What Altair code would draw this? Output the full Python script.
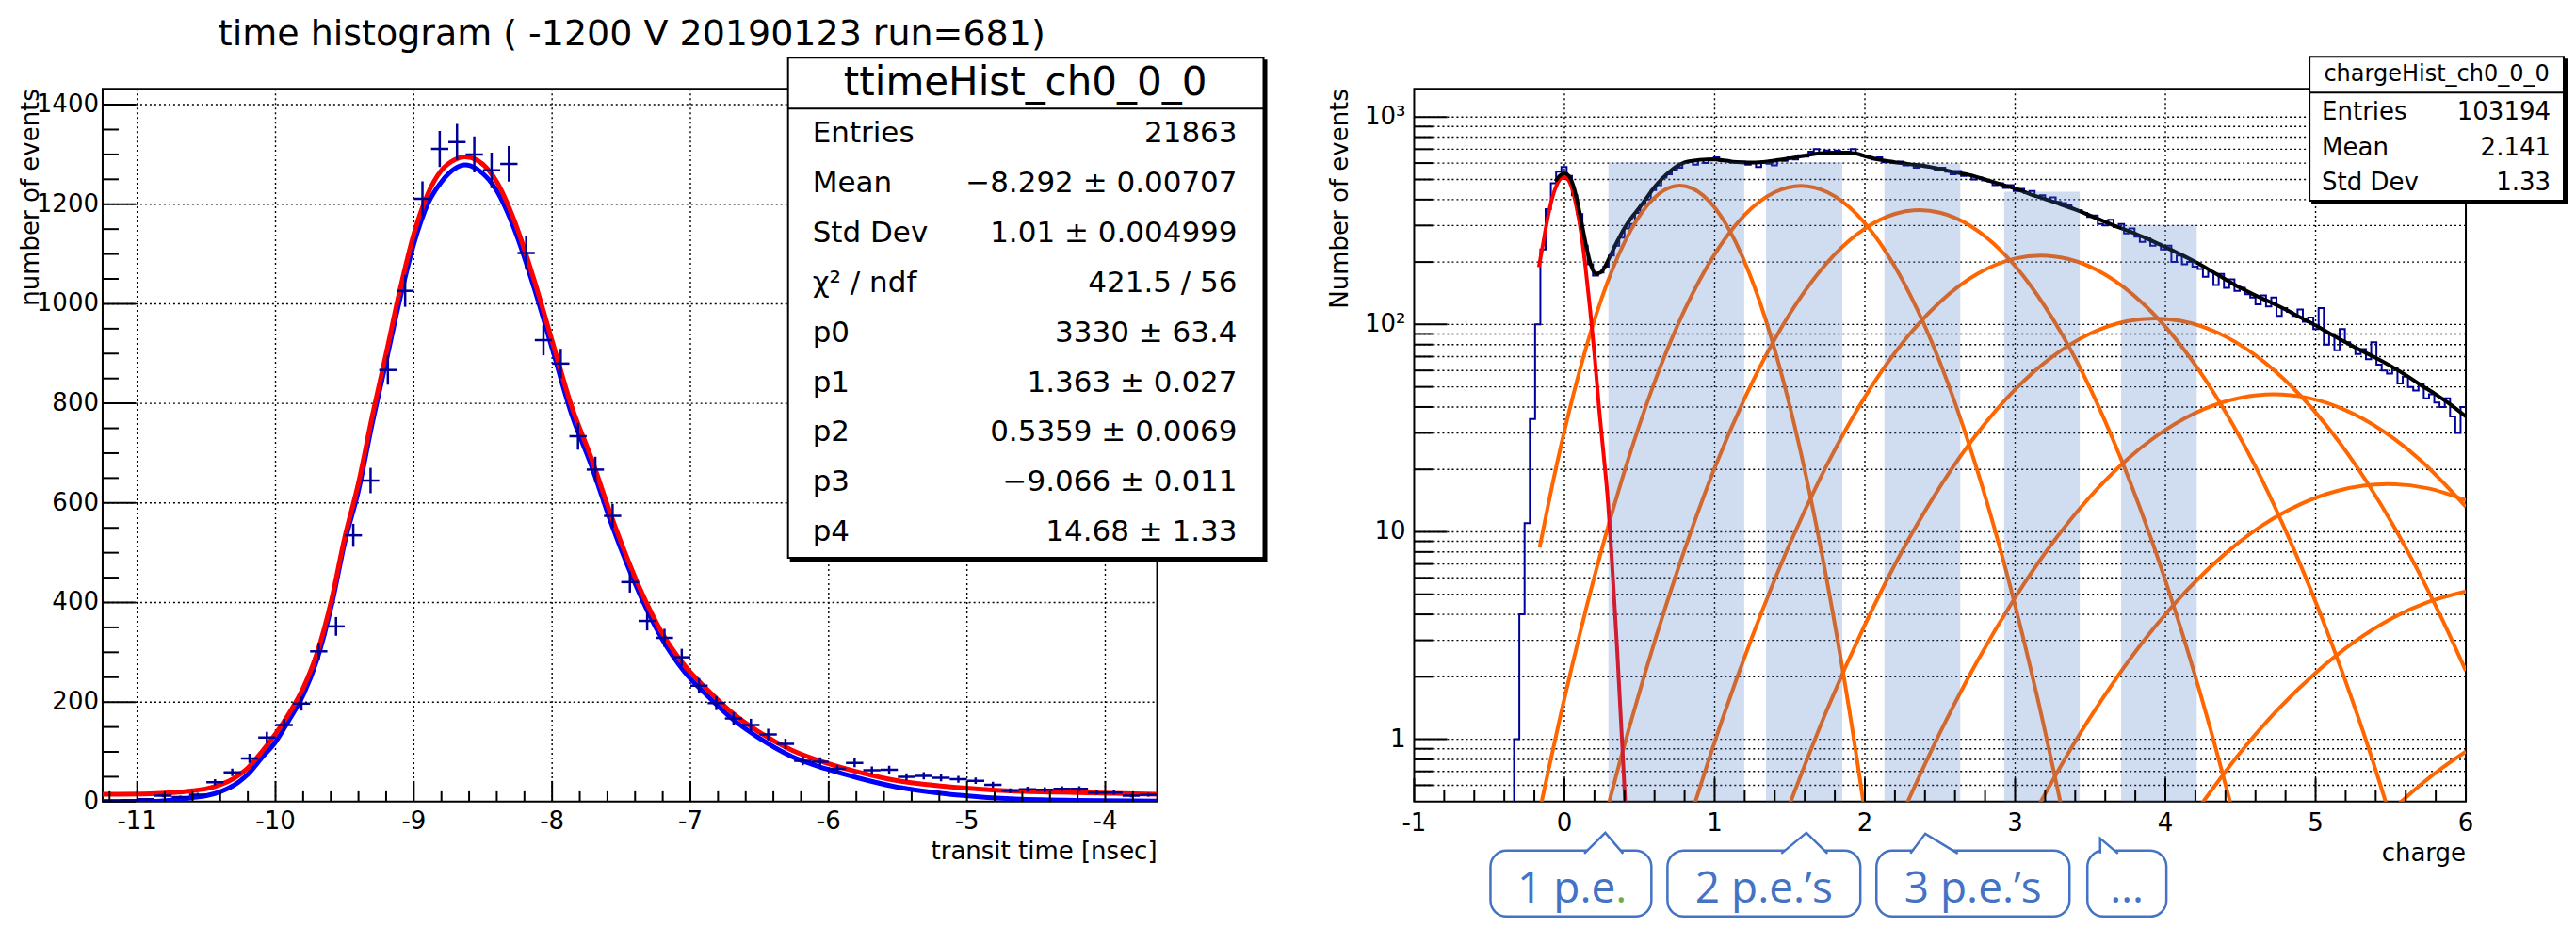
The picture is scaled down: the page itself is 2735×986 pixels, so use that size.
import altair as alt
import numpy as np
import pandas as pd

FONT = "DejaVu Sans"
CFONT = "Open Sans"
NAVY = "#000099"
ORANGE = "#FF6600"
BAND = "#4472C4"
GREEN = "#70AD47"

# ---------------- left panel: transit time ----------------
time_title = "time histogram ( -1200 V 20190123 run=681)"
time_bin_lo = -11.25
time_bin_w = 0.125
time_counts = [2, 3, 5, 12, 9, 14, 39, 59, 87, 129,
               154, 197, 302, 352, 535, 645, 867, 1026, 1211, 1311,
               1325, 1300, 1268, 1281, 1102, 927, 880, 734, 667, 574,
               441, 363, 329, 290, 233, 198, 167, 154, 135, 116,
               82, 80, 66, 78, 63, 64, 50, 52, 48, 45,
               42, 34, 22, 25, 24, 26, 26, 18, 18, 12, 14]
fit_t = [-11.25, -10.9, -10.75, -10.6, -10.5, -10.4, -10.3, -10.2, -10.1, -10.0,
         -9.9, -9.8, -9.7, -9.595, -9.5, -9.4, -9.3, -9.2, -9.1, -9.0,
         -8.9, -8.8, -8.7, -8.63, -8.54, -8.40, -8.266, -8.13, -7.994, -7.86,
         -7.72, -7.563, -7.36, -7.213, -7.043, -6.87, -6.70, -6.51, -6.27, -6.02,
         -5.78, -5.536, -5.17, -4.686, -4.2, -3.625]
fit_blue = [0, 0.5, 3, 8, 12, 20, 33, 55, 88, 120,
            165, 214, 285, 394, 520, 625, 760, 884, 1010, 1120,
            1200, 1245, 1272, 1279, 1270, 1227, 1145, 1032, 905, 779,
            678, 552, 413, 331, 261, 211, 167, 129, 91, 66,
            47, 31, 16.4, 5.7, 2.5, 1.2]
fit_red = [15, 16, 18, 22, 26, 34, 47, 68, 100, 136,
           178, 228, 298, 405, 530, 640, 775, 900, 1028, 1140,
           1220, 1268, 1290, 1295, 1288, 1245, 1162, 1048, 920, 795,
           693, 567, 425, 343, 274, 223, 179, 141, 104, 78,
           59, 43.6, 31, 21.5, 18.3, 15]
time_stats_name = "ttimeHist_ch0_0_0"
time_stats_labels = ["Entries", "Mean", "Std Dev", "\u03c7\u00b2 / ndf", "p0", "p1", "p2", "p3", "p4"]
time_stats_values = ["21863", "\u22128.292 \u00b1 0.00707", "1.01 \u00b1 0.004999", "421.5 / 56",
                     "3330 \u00b1 63.4", "1.363 \u00b1 0.027", "0.5359 \u00b1 0.0069",
                     "\u22129.066 \u00b1 0.011", "14.68 \u00b1 1.33"]
time_x_ticks = [-11, -10, -9, -8, -7, -6, -5, -4]
time_x_labels = ["-11", "-10", "-9", "-8", "-7", "-6", "-5", "-4"]
time_y_ticks = [0, 200, 400, 600, 800, 1000, 1200, 1400]
time_y_labels = ["0", "200", "400", "600", "800", "1000", "1200", "1400"]

# ---------------- right panel: charge ----------------
charge_bin_lo = -0.335
charge_bin_w = 0.035
charge_counts = [1, 4, 11, 35, 100, 230, 360, 480, 545, 575,
                 520, 420, 340, 240, 195, 172, 178, 190, 215, 240,
                 262, 290, 305, 345, 380, 400, 445, 470, 510, 530,
                 555, 570, 600, 610, 590, 625, 600, 630, 640, 615,
                 620, 605, 600, 610, 590, 600, 575, 610, 595, 585,
                 620, 615, 640, 625, 655, 645, 680, 700, 665, 690,
                 670, 690, 665, 680, 700, 660, 650, 640, 625, 640,
                 605, 615, 600, 610, 585, 595, 570, 590, 575, 570,
                 555, 570, 545, 530, 550, 520, 525, 500, 510, 495,
                 490, 470, 480, 455, 470, 440, 450, 430, 440, 415,
                 420, 400, 410, 390, 385, 375, 360, 355, 345, 330,
                 335, 305, 300, 320, 295, 305, 275, 290, 265, 250,
                 260, 240, 245, 230, 240, 200, 215, 195, 200, 190,
                 185, 170, 180, 155, 175, 150, 165, 145, 150, 140,
                 135, 125, 138, 122, 135, 110, 120, 115, 110, 118,
                 103, 108, 95, 120, 80, 90, 75, 95, 82, 78,
                 72, 76, 68, 82, 64, 60, 58, 62, 52, 56,
                 50, 48, 52, 44, 46, 42, 40, 44, 36, 30, 40]
total_q = [-0.06, -0.03, 0.0, 0.03, 0.06, 0.09, 0.12, 0.15, 0.18, 0.21, 0.24, 0.27, 0.30,
           0.35, 0.40, 0.45, 0.50, 0.55, 0.60, 0.65, 0.70, 0.75, 0.80, 0.85, 0.90, 0.95,
           1.00, 1.05, 1.10, 1.15, 1.20, 1.25, 1.30, 1.35, 1.40, 1.45, 1.50, 1.55, 1.60,
           1.65, 1.70, 1.75, 1.80, 1.85, 1.90, 1.95, 2.00, 2.05, 2.10, 2.15, 2.20, 2.25,
           2.30, 2.35, 2.40, 2.50, 2.60, 2.70, 2.80, 2.90, 3.00, 3.10, 3.20, 3.30, 3.40,
           3.50, 3.60, 3.70, 3.80, 3.90, 4.00, 4.10, 4.20, 4.30, 4.40, 4.50, 4.60, 4.70,
           4.80, 4.90, 5.00, 5.10, 5.20, 5.30, 5.40, 5.50, 5.60, 5.70, 5.80, 5.90, 6.00]
total_n = [490, 522, 535, 520, 465, 380, 295, 230, 190, 176, 178, 190, 210,
           250, 292, 330, 366, 410, 460, 505, 545, 580, 605, 615, 622, 625,
           624, 620, 612, 607, 604, 603, 605, 610, 617, 625, 632, 642, 652,
           662, 668, 672, 674, 674, 672, 665, 648, 634, 622, 614, 605, 600,
           592, 587, 580, 562, 542, 525, 500, 475, 452, 425, 402, 380, 358,
           335, 312, 292, 274, 255, 236, 218, 200, 182, 165, 150, 138, 128,
           118, 108, 99, 90, 82, 75, 69, 63, 57, 51, 46, 41, 36]
ped_q = [-0.17, -0.14, -0.11, -0.08, -0.05, -0.02, 0.0, 0.02, 0.05, 0.08, 0.11,
         0.14, 0.17, 0.20, 0.23, 0.26, 0.29, 0.32, 0.35, 0.38, 0.41]
ped_n = [189, 250, 330, 410, 472, 508, 514, 505, 455, 370, 280,
         190, 120, 72, 40, 24, 14, 6.5, 2.8, 1.1, 0.42]
pe1_q = [-0.165, -0.05, 0.1, 0.25, 0.4, 0.55, 0.7, 0.77, 0.85, 1.0, 1.15, 1.3, 1.45, 1.6, 1.75, 1.9, 2.05]
pe1_n = [8.4, 21.3, 59.4, 135, 249, 374, 457, 467, 453, 366, 241, 129, 55.9, 19.8, 5.68, 1.33, 0.25]
pe2_q = [-0.165, 0.0, 0.2, 0.4, 0.6, 0.8, 1.0, 1.2, 1.4, 1.575, 1.75, 1.95, 2.15, 2.35, 2.55, 2.75, 2.95, 3.15, 3.35]
pe2_n = [0.45, 1.57, 6.1, 19.6, 52.7, 117.5, 218, 337.5, 434, 466, 434, 337.5, 218, 117.5, 52.7, 19.6, 6.1, 1.57, 0.34]
pe3_q = [0.25, 0.4, 0.6, 0.8, 1.0, 1.2, 1.4, 1.6, 1.8, 2.0, 2.2, 2.365, 2.5, 2.7, 2.9, 3.1, 3.3, 3.5, 3.7, 3.9, 4.1, 4.3, 4.5]
pe3_n = [0.365, 0.94, 2.95, 8.2, 20.3, 44.1, 85, 144.7, 217.9, 290, 341.4, 356, 346, 299.5, 229, 155, 92.7, 49.1, 22.9, 9.5, 3.47, 1.12, 0.32]
pe4_q = [0.85, 1.0, 1.25, 1.5, 1.75, 2.0, 2.25, 2.5, 2.75, 3.0, 3.17, 3.35, 3.6, 3.85, 4.1, 4.35, 4.6, 4.85, 5.1, 5.35, 5.6]
pe4_n = [0.446, 0.97, 3.12, 8.75, 21.2, 44.7, 81.4, 128.4, 175.6, 208, 215, 207, 173.9, 126.4, 79.7, 43.5, 20.6, 8.4, 2.99, 0.92, 0.24]
pe5_q = [1.5, 1.75, 2.0, 2.25, 2.5, 2.75, 3.0, 3.25, 3.5, 3.75, 3.93, 4.1, 4.35, 4.6, 4.85, 5.1, 5.35, 5.6, 5.85, 6.0]
pe5_n = [0.487, 1.4, 3.56, 8.13, 16.5, 30, 48.6, 70.1, 90.4, 103.9, 107, 104.2, 91.1, 71, 49.4, 30.7, 17, 8.38, 3.69, 2.14]
pe6_q = [2.25, 2.5, 2.75, 3.0, 3.25, 3.5, 3.75, 4.0, 4.25, 4.5, 4.72, 4.95, 5.2, 5.45, 5.7, 6.0]
pe6_n = [0.44, 1.075, 2.39, 4.82, 8.86, 14.8, 22.5, 31, 38.9, 44.3, 46, 44.2, 38.6, 30.6, 22.1, 13.2]
pe7_q = [3.15, 3.4, 3.65, 3.9, 4.15, 4.4, 4.65, 4.9, 5.15, 5.48, 5.75, 6.0]
pe7_n = [0.47, 0.976, 1.86, 3.27, 5.29, 7.87, 10.8, 13.6, 15.8, 17, 16.2, 14.2]
pe8_q = [4.24, 4.5, 4.75, 5.0, 5.25, 5.5, 5.75, 6.0]
pe8_n = [0.487, 0.865, 1.395, 2.09, 2.92, 3.8, 4.59, 5.16]
pe9_q = [5.55, 5.7, 5.85, 6.0]
pe9_n = [0.485, 0.604, 0.734, 0.872]
band_lo = [0.293, 1.342, 2.13, 2.927, 3.706]
band_hi = [1.197, 1.85, 2.635, 3.43, 4.209]
band_top = [605, 605, 597, 436, 302]
charge_stats_name = "chargeHist_ch0_0_0"
charge_stats_labels = ["Entries", "Mean", "Std Dev"]
charge_stats_values = ["103194", "2.141", "1.33"]
charge_x_ticks = [-1, 0, 1, 2, 3, 4, 5, 6]
charge_x_labels = ["-1", "0", "1", "2", "3", "4", "5", "6"]
charge_y_ticks = [1, 10, 100, 1000]
charge_y_labels = ["1", "10", "10\u00b2", "10\u00b3"]
callout_labels = ["1 p.e.", "2 p.e.\u2019s", "3 p.e.\u2019s", "\u2026"]
callout_lo = [-0.492, 0.686, 2.077, 3.481]
callout_hi = [0.579, 1.970, 3.362, 4.007]
callout_tip = [0.272, 1.611, 2.402, 3.566]
callout_text_q = [0.341, 1.328, 2.7195, 3.744]
callout_paths = ["M -0.446 0.06 L 0 -0.38 L 0.38 0.06",
                 "M -0.534 0.06 L 0 -0.38 L 0.446 0.06",
                 "M -0.316 0.06 L 0 -0.36 L 0.692 0.06",
                 "M 0 0.06 L 0 -0.26 L 0.38 0.06"]

# ---------------- layout ----------------
W1, W2, H = 1120, 1117, 757
GAP = 273
one = pd.DataFrame({"a": [0]})

xs1 = alt.Scale(domain=[-11.25, -3.625], nice=False, zero=False)
ys1 = alt.Scale(domain=[0, 1432], nice=False, zero=False)
xs2 = alt.Scale(domain=[-1, 6], nice=False, zero=False)
ys2 = alt.Scale(type="log", domain=[0.5, 1370], nice=False)

GRID = dict(color="black", strokeDash=[2, 3], strokeWidth=1.4)
TICK = dict(color="black", strokeWidth=2)


def rules_v(vals, scale, y0, y1, **kw):
    return alt.Chart(pd.DataFrame({"v": vals})).mark_rule(**kw).encode(
        x=alt.X("v:Q", scale=scale, axis=None), y=alt.value(y0), y2=alt.value(y1))


def rules_h(vals, scale, x0, x1, **kw):
    return alt.Chart(pd.DataFrame({"v": vals})).mark_rule(**kw).encode(
        y=alt.Y("v:Q", scale=scale, axis=None), x=alt.value(x0), x2=alt.value(x1))


def txt(text, x, y, size, align="left", color="black", font=FONT, baseline="middle", angle=0):
    return alt.Chart(one).mark_text(text=text, font=font, fontSize=size, align=align,
                                    baseline=baseline, color=color, angle=angle).encode(
        x=alt.value(x), y=alt.value(y))


def box(x0, y0, x1, y1, fill="white", stroke="black", sw=2):
    return alt.Chart(one).mark_rect(fill=fill, stroke=stroke, strokeWidth=sw).encode(
        x=alt.value(x0), x2=alt.value(x1), y=alt.value(y0), y2=alt.value(y1))


def hline(x0, x1, y, sw=2):
    return alt.Chart(one).mark_rule(color="black", strokeWidth=sw).encode(
        x=alt.value(x0), x2=alt.value(x1), y=alt.value(y))


def xlabels(vals, labs, scale, y):
    d = pd.DataFrame({"v": vals, "lab": labs})
    return alt.Chart(d).mark_text(font=FONT, fontSize=26, align="center", baseline="middle",
                                  color="black").encode(
        x=alt.X("v:Q", scale=scale, axis=None), y=alt.value(y), text="lab:N")


def ylabels(vals, labs, scale, x):
    d = pd.DataFrame({"v": vals, "lab": labs})
    return alt.Chart(d).mark_text(font=FONT, fontSize=26, align="right", baseline="middle",
                                  color="black").encode(
        y=alt.Y("v:Q", scale=scale, axis=None), x=alt.value(x), text="lab:N")


# ---------- left panel ----------
tx_minor = [round(-11.2 + 0.2 * i, 1) for i in range(38)]
tx_minor = [v for v in tx_minor if abs(v - round(v)) > 1e-6]
ty_minor = [v for v in range(50, 1432, 50) if v % 200 != 0]

centers = [time_bin_lo + time_bin_w * (i + 0.5) for i in range(len(time_counts))]
tdf = pd.DataFrame({"t": centers, "n": time_counts})
tdf["t0"] = tdf["t"] - time_bin_w / 2
tdf["t1"] = tdf["t"] + time_bin_w / 2
tdf["e"] = np.sqrt(tdf["n"])
tdf["n0"] = tdf["n"] - tdf["e"]
tdf["n1"] = tdf["n"] + tdf["e"]
fdf = pd.DataFrame({"t": fit_t, "blue": fit_blue, "red": fit_red})

L = []
L.append(alt.Chart(one).mark_rect(opacity=0).encode(
    x=alt.value(-100), x2=alt.value(-99), y=alt.value(-85), y2=alt.value(-84)))
L.append(rules_v(time_x_ticks, xs1, 0, H, **GRID))
L.append(rules_h(time_y_ticks[1:], ys1, 0, W1, **GRID))
L.append(alt.Chart(fdf).mark_line(color="#0000FF", strokeWidth=5, interpolate="monotone", clip=True).encode(
    x=alt.X("t:Q", scale=xs1, axis=None), y=alt.Y("blue:Q", scale=ys1, axis=None)))
L.append(alt.Chart(fdf).mark_line(color="#FF0000", strokeWidth=5, interpolate="monotone", clip=True).encode(
    x=alt.X("t:Q", scale=xs1, axis=None), y=alt.Y("red:Q", scale=ys1, axis=None)))
L.append(alt.Chart(tdf).mark_rule(color=NAVY, strokeWidth=2.5, clip=True).encode(
    x=alt.X("t0:Q", scale=xs1, axis=None), x2="t1:Q", y=alt.Y("n:Q", scale=ys1, axis=None)))
L.append(alt.Chart(tdf).mark_rule(color=NAVY, strokeWidth=2.5, clip=True).encode(
    x=alt.X("t:Q", scale=xs1, axis=None), y=alt.Y("n0:Q", scale=ys1, axis=None), y2="n1:Q"))
L.append(rules_v(time_x_ticks, xs1, H, H - 22, **TICK))
L.append(rules_v(tx_minor, xs1, H, H - 11, **TICK))
L.append(rules_h(time_y_ticks, ys1, 0, 35, **TICK))
L.append(rules_h(ty_minor, ys1, 0, 17, **TICK))
L.append(xlabels(time_x_ticks, time_x_labels, xs1, H + 21))
L.append(ylabels(time_y_ticks, time_y_labels, ys1, -4))
L.append(txt(time_title, 562, -57, 38, align="center"))
L.append(txt("number of events", -76, 0, 26, align="right", angle=270))
L.append(txt("transit time [nsec]", W1, 810, 26, align="right"))
# stats box
L.append(box(731, -30, 1236, 501, fill="black", stroke="black"))
L.append(box(728, -33, 1233, 498))
L.append(hline(728, 1233, 21))
L.append(txt(time_stats_name, 980, -6, 42, align="center"))
for i, (lab, val) in enumerate(zip(time_stats_labels, time_stats_values)):
    yy = 48 + 52.9 * i
    L.append(txt(lab, 754, yy, 31))
    L.append(txt(val, 1205, yy, 31, align="right"))
left = alt.layer(*L).properties(width=W1, height=H)

# ---------- right panel ----------
qx_minor = [round(-1 + 0.2 * i, 1) for i in range(36)]
qx_minor = [v for v in qx_minor if abs(v - round(v)) > 1e-6]
qy_minor = [m * 10.0 ** e for e in range(-1, 3) for m in range(2, 10)]
qy_minor = [round(v, 3) for v in qy_minor if 0.55 < v < 1370]

edges = [charge_bin_lo - charge_bin_w] + [charge_bin_lo + charge_bin_w * i for i in range(len(charge_counts) + 1)]
vals = [0.1] + [max(c, 0.1) for c in charge_counts] + [max(charge_counts[-1], 0.1)]
hdf = pd.DataFrame({"q": edges, "n": vals})

rows = []
for gi, (qq, nn) in enumerate([(pe1_q, pe1_n), (pe2_q, pe2_n), (pe3_q, pe3_n), (pe4_q, pe4_n),
                               (pe5_q, pe5_n), (pe6_q, pe6_n), (pe7_q, pe7_n), (pe8_q, pe8_n),
                               (pe9_q, pe9_n)]):
    for a, b in zip(qq, nn):
        rows.append({"g": gi, "q": a, "n": b})
odf = pd.DataFrame(rows)
bdf = pd.DataFrame({"lo": band_lo, "hi": band_hi, "top": band_top})
cdf = pd.DataFrame({"lo": callout_lo, "hi": callout_hi, "tip": callout_tip, "path": callout_paths,
                    "tq": callout_text_q, "lab": callout_labels})

R = []
R.append(rules_v(list(range(0, 6)), xs2, 0, H, **GRID))
R.append(rules_h(charge_y_ticks + qy_minor, ys2, 0, W2, **GRID))
R.append(alt.Chart(hdf).mark_line(color=NAVY, strokeWidth=2, interpolate="step-after", clip=True).encode(
    x=alt.X("q:Q", scale=xs2, axis=None), y=alt.Y("n:Q", scale=ys2, axis=None)))
R.append(alt.Chart(odf).mark_line(color=ORANGE, strokeWidth=4, interpolate="monotone", clip=True).encode(
    x=alt.X("q:Q", scale=xs2, axis=None), y=alt.Y("n:Q", scale=ys2, axis=None), detail="g:N"))
R.append(alt.Chart(pd.DataFrame({"q": ped_q, "n": ped_n})).mark_line(
    color="#FF0000", strokeWidth=4, interpolate="monotone", clip=True).encode(
    x=alt.X("q:Q", scale=xs2, axis=None), y=alt.Y("n:Q", scale=ys2, axis=None)))
R.append(alt.Chart(pd.DataFrame({"q": total_q, "n": total_n})).mark_line(
    color="black", strokeWidth=4, interpolate="monotone", clip=True).encode(
    x=alt.X("q:Q", scale=xs2, axis=None), y=alt.Y("n:Q", scale=ys2, axis=None)))
R.append(alt.Chart(bdf).mark_rect(color=BAND, opacity=0.25).encode(
    x=alt.X("lo:Q", scale=xs2, axis=None), x2="hi:Q",
    y=alt.Y("top:Q", scale=ys2, axis=None), y2=alt.value(H)))
R.append(rules_v(charge_x_ticks, xs2, H, H - 25, **TICK))
R.append(rules_v(qx_minor, xs2, H, H - 12, **TICK))
R.append(rules_h(charge_y_ticks, ys2, 0, 35, **TICK))
R.append(rules_h(qy_minor, ys2, 0, 20, **TICK))
R.append(xlabels(charge_x_ticks, charge_x_labels, xs2, H + 23))
R.append(ylabels(charge_y_ticks, charge_y_labels, ys2, -9))
R.append(txt("Number of events", -78, 0, 26, align="right", angle=270))
R.append(txt("charge", W2, 812, 26, align="right"))
# stats box
R.append(box(954, -31, 1224, 122, fill="black", stroke="black"))
R.append(box(951, -34, 1221, 119))
R.append(hline(951, 1221, 4))
R.append(txt(charge_stats_name, 1086, -15, 24, align="center"))
for i, (lab, val) in enumerate(zip(charge_stats_labels, charge_stats_values)):
    yy = 25 + 37.5 * i
    R.append(txt(lab, 964, yy, 26))
    R.append(txt(val, 1207, yy, 26, align="right"))
# callouts
R.append(alt.Chart(cdf).mark_rect(fill="white", stroke=BAND, strokeWidth=2.5, cornerRadius=17).encode(
    x=alt.X("lo:Q", scale=xs2, axis=None), x2="hi:Q", y=alt.value(809), y2=alt.value(879)))
R.append(alt.Chart(cdf).mark_point(filled=True, fill="white", stroke=BAND, strokeWidth=2.5,
                                   size=10000, opacity=1).encode(
    x=alt.X("tip:Q", scale=xs2, axis=None), y=alt.value(809), shape=alt.Shape("path:N", scale=None)))
first = cdf.iloc[:1]
R.append(alt.Chart(first).mark_text(text=callout_labels[0][:-1], font=CFONT, fontSize=46, align="right",
                                    baseline="alphabetic", color=BAND).encode(
    x=alt.X("tq:Q", scale=xs2, axis=None), y=alt.value(864)))
R.append(alt.Chart(first).mark_text(text=callout_labels[0][-1], font=CFONT, fontSize=46, align="left",
                                    baseline="alphabetic", color=GREEN).encode(
    x=alt.X("tq:Q", scale=xs2, axis=None), y=alt.value(864)))
R.append(alt.Chart(cdf.iloc[1:]).mark_text(font=CFONT, fontSize=46, align="center",
                                           baseline="alphabetic", color=BAND).encode(
    x=alt.X("tq:Q", scale=xs2, axis=None), y=alt.value(864), text="lab:N"))
right = alt.layer(*R).properties(width=W2, height=H)

chart = alt.hconcat(left, right, spacing=GAP, bounds="flush").properties(
    padding=0).configure_view(stroke="black", strokeWidth=2)

chart.save("out.html", embed_options={"renderer": "svg", "actions": False})
